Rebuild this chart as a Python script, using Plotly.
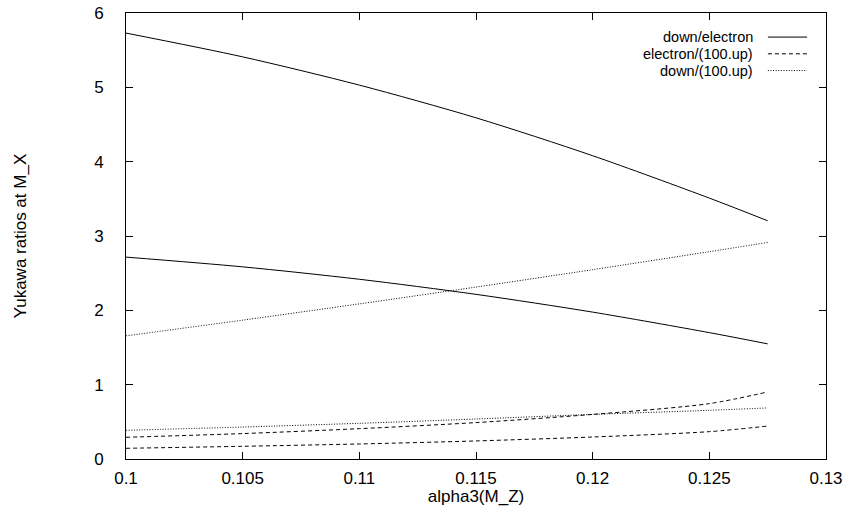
import plotly.graph_objects as go

# alpha3(M_Z) sample points
alpha3 = [0.1, 0.105, 0.11, 0.115, 0.12, 0.125, 0.1275]

# down/electron (solid) - two sets
down_electron_a = [5.73, 5.41, 5.03, 4.59, 4.08, 3.51, 3.205]
down_electron_b = [2.716, 2.585, 2.418, 2.215, 1.976, 1.700, 1.549]

# electron/(100.up) (dashed) - two sets
electron_up_a = [0.292, 0.342, 0.408, 0.49, 0.60, 0.745, 0.902]
electron_up_b = [0.144, 0.171, 0.202, 0.243, 0.296, 0.368, 0.443]

# down/(100.up) (dotted) - two sets
down_up_a = [1.657, 1.868, 2.087, 2.313, 2.547, 2.789, 2.913]
down_up_b = [0.386, 0.43, 0.48, 0.538, 0.60, 0.655, 0.687]

legend_names = ["down/electron", "electron/(100.up)", "down/(100.up)"]
x_ticks = [0.1, 0.105, 0.11, 0.115, 0.12, 0.125, 0.13]
y_ticks = [0, 1, 2, 3, 4, 5, 6]

FONT = "Liberation Sans, Arial, sans-serif"
DASHES = ["solid", "4px,3px", "1px,1.6px"]

series = [
    (down_electron_a, 0), (down_electron_b, 0),
    (electron_up_a, 1), (electron_up_b, 1),
    (down_up_a, 2), (down_up_b, 2),
]

fig = go.Figure()
for ys, k in series:
    fig.add_trace(go.Scatter(
        x=alpha3, y=ys, mode="lines", showlegend=False, name=legend_names[k],
        line=dict(color="black", width=1, dash=DASHES[k], shape="spline", smoothing=0.8),
    ))

# gnuplot-style key: right-aligned text with line sample on its right
key_y = [0.946, 0.9085, 0.871]
for k, name in enumerate(legend_names):
    fig.add_annotation(
        xref="paper", yref="paper", x=0.897, y=key_y[k], text=name,
        showarrow=False, xanchor="right", yanchor="middle", borderpad=0,
        font=dict(family=FONT, size=14.5, color="black"),
    )
    fig.add_shape(
        type="line", xref="paper", yref="paper",
        x0=0.917, x1=0.973, y0=key_y[k], y1=key_y[k],
        line=dict(color="black", width=1, dash=DASHES[k]),
    )

axis_common = dict(
    showline=True, linecolor="black", linewidth=1, mirror="ticks",
    ticks="inside", ticklen=7, tickcolor="black", tickwidth=1,
    showgrid=False, zeroline=False, automargin=False,
    tickfont=dict(family=FONT, size=17, color="black"),
)

fig.update_xaxes(
    range=[0.1, 0.13], tickvals=x_ticks,
    ticktext=[("%g" % v) for v in x_ticks],
    title=dict(text="alpha3(M_Z)", font=dict(family=FONT, size=17, color="black"), standoff=1),
    ticklabelstandoff=4,
    **axis_common,
)
fig.update_yaxes(
    range=[0, 6], tickvals=y_ticks,
    title=dict(text="Yukawa ratios at M_X", font=dict(family=FONT, size=17, color="black"), standoff=63),
    ticklabelstandoff=18,
    **axis_common,
)

fig.update_layout(
    width=850, height=506,
    margin=dict(l=126, r=24, t=13, b=47),
    paper_bgcolor="white", plot_bgcolor="white",
    font=dict(family=FONT, color="black"),
)

fig.write_html(
    "out.html",
    config={"displayModeBar": False},
    post_script="document.body.style.margin='0';document.body.style.overflow='hidden';",
)
